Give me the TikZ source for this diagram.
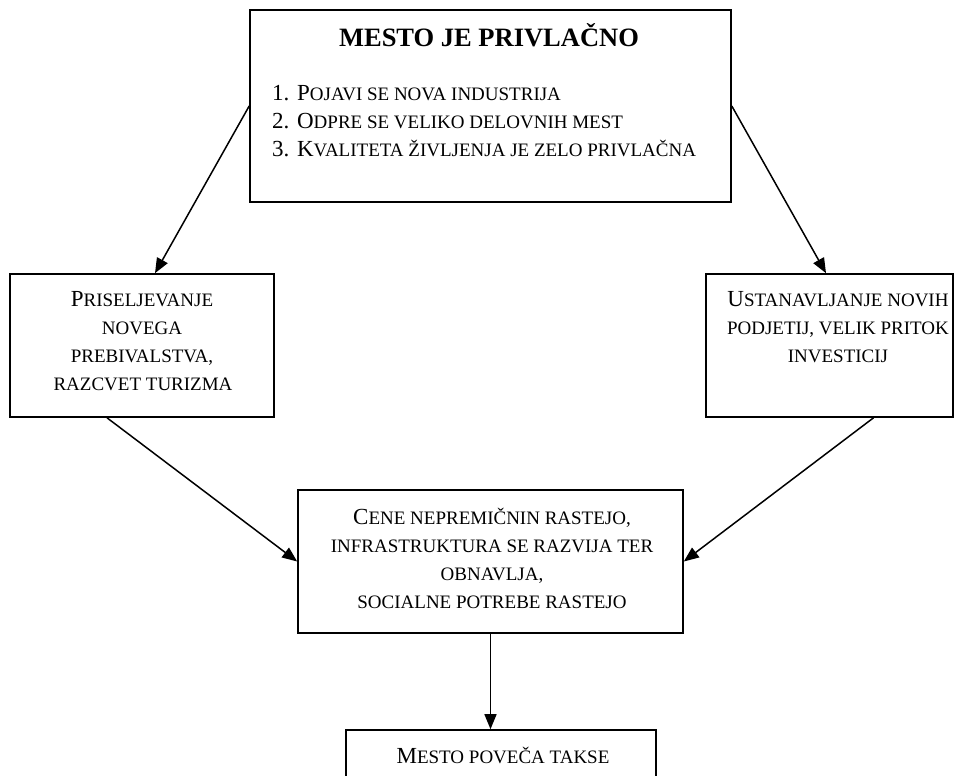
\documentclass[tikz,border=0pt]{standalone}
\usepackage{fontspec}
\setmainfont{Liberation Serif}
\usetikzlibrary{arrows.meta}
\newcommand{\sm}[1]{{\fontsize{19pt}{21pt}\selectfont #1}}
\begin{document}
\begin{tikzpicture}[x=1pt,y=-1pt,
  box/.style={draw,line width=1.6pt,rectangle,inner sep=0pt},
  txt/.style={inner sep=0pt,anchor=base,font=\fontsize{23pt}{28pt}\selectfont},
  ltxt/.style={txt,anchor=base west},
  ttl/.style={inner sep=0pt,anchor=base,font=\fontsize{26.5pt}{30pt}\selectfont\bfseries},
  arr/.style={line width=1.5pt,-{Triangle[length=15pt,width=12pt]}}]
\useasboundingbox (0,0) rectangle (958,776);
% boxes
\node[box,minimum width=481pt,minimum height=192pt] (top) at (490.5,106) {};
\node[box,minimum width=264pt,minimum height=143pt] (lb) at (142,345.5) {};
\node[box,minimum width=247pt,minimum height=143pt] (rb) at (829.5,345.5) {};
\node[box,minimum width=385pt,minimum height=143pt] (mid) at (490.5,561.5) {};
\node[box,minimum width=310pt,minimum height=100pt] (bot) at (501,780) {};
% texts
\node[ttl] (title) at (489,47) {MESTO JE PRIVLAČNO};
\node[ltxt] (l1) at (272,100) {1. P\sm{OJAVI SE NOVA INDUSTRIJA}};
\node[ltxt] (l2) at (272,128) {2. O\sm{DPRE SE VELIKO DELOVNIH MEST}};
\node[ltxt] (l3) at (272,156) {3. K\sm{VALITETA ŽIVLJENJA JE ZELO PRIVLAČNA}};
\node[txt] (a1) at (142,306) {P\sm{RISELJEVANJE}};
\node[txt] (a2) at (142,334) {\sm{NOVEGA}};
\node[txt] (a3) at (142,362) {\sm{PREBIVALSTVA,}};
\node[txt] (a4) at (143,390) {\sm{RAZCVET TURIZMA}};
\node[txt] (b1) at (838,306) {U\sm{STANAVLJANJE NOVIH}};
\node[txt] (b2) at (838,334) {\sm{PODJETIJ, VELIK PRITOK}};
\node[txt] (b3) at (838,362) {\sm{INVESTICIJ}};
\node[txt] (c1) at (492,524) {C\sm{ENE NEPREMIČNIN RASTEJO,}};
\node[txt] (c2) at (492,552) {\sm{INFRASTRUKTURA SE RAZVIJA TER}};
\node[txt] (c3) at (492,580) {\sm{OBNAVLJA,}};
\node[txt] (c4) at (492,608) {\sm{SOCIALNE POTREBE RASTEJO}};
\node[txt] (d1) at (503,763) {M\sm{ESTO POVEČA TAKSE}};
% connectors
\draw[arr] (top.west) -- ([xshift=13pt]lb.north);
\draw[arr] (top.east) -- ([xshift=-3.5pt]rb.north);
\draw[arr] ([xshift=-35pt]lb.south) -- (mid.west);
\draw[arr] ([xshift=44pt]rb.south) -- (mid.east);
\draw[arr] (mid.south) -- (mid.south |- bot.north);
\end{tikzpicture}
\end{document}
